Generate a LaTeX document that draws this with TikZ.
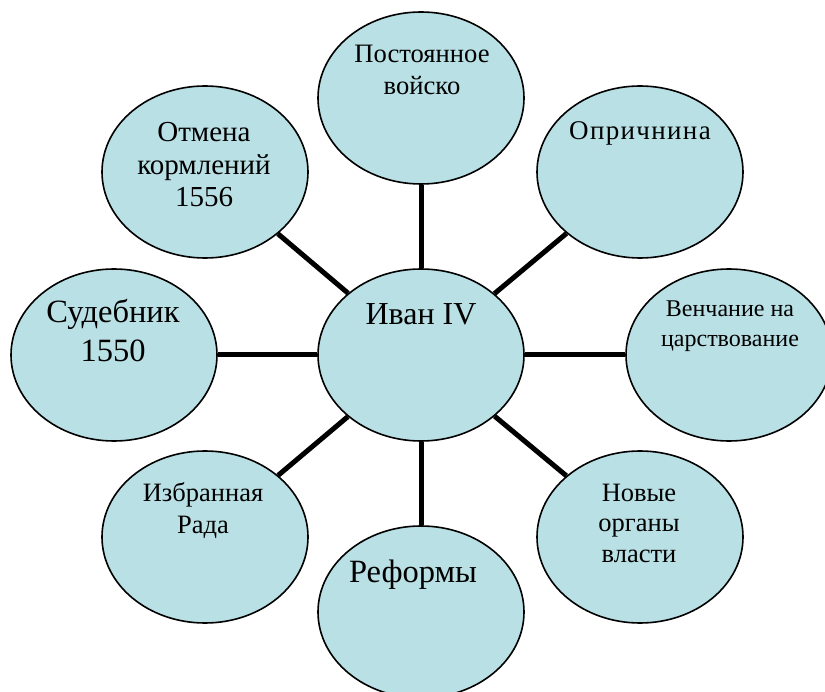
\documentclass[tikz,border=0pt]{standalone}
\usepackage{fontspec}
\setmainfont{Liberation Serif}
\usetikzlibrary{shapes.geometric,backgrounds}
\definecolor{bubfill}{RGB}{185,224,228}
\begin{document}
\begin{tikzpicture}[x=1pt,y=-1pt,
  bub/.style={ellipse, draw=black, line width=1.6pt, fill=bubfill,
    minimum width=206pt, minimum height=172pt, inner sep=0pt},
  conn/.style={line width=5pt, draw=black},
  lbl/.style={anchor=base, align=center, inner sep=0pt}]
\useasboundingbox (0,0) rectangle (825,692);
% bubbles
\node[bub] (c)   at (421,355) {};
\node[bub] (top) at (421,98)  {};
\node[bub] (opr) at (640,172) {};
\node[bub] (ven) at (729,355) {};
\node[bub] (nov) at (640,537) {};
\node[bub] (ref) at (421,612) {};
\node[bub] (izb) at (205,537) {};
\node[bub] (sud) at (114,355) {};
\node[bub] (otm) at (205,172) {};
% connectors
\begin{scope}[on background layer]
\foreach \n in {top,opr,ven,nov,ref,izb,sud,otm}
  \draw[conn] (c) -- (\n);
\end{scope}
% texts (base = baseline of the last line)
\node[lbl, font=\fontsize{32}{38}\selectfont] (tc) at (421,325) {Иван IV};
\node[lbl, font=\fontsize{26.6}{32}\selectfont] (ttop) at (422,95) {Постоянное\\войско};
\node[lbl, font=\fontsize{27}{32}\selectfont\addfontfeature{LetterSpace=5}] (topr) at (640,140) {Опричнина};
\node[lbl, font=\fontsize{24}{30}\selectfont] (tven) at (730,347) {Венчание на\\царствование};
\node[lbl, font=\fontsize{26.5}{30.5}\selectfont] (tnov) at (639,562) {Новые\\органы\\власти};
\node[lbl, font=\fontsize{32.5}{38}\selectfont] (tref) at (413,582) {Реформы};
\node[lbl, font=\fontsize{26.5}{32}\selectfont] (tizb) at (203,533) {Избранная\\Рада};
\node[lbl, font=\fontsize{32.5}{39}\selectfont] (tsud) at (113,362) {Судебник\\1550};
\node[lbl, font=\fontsize{29}{32.5}\selectfont] (totm) at (204,207) {Отмена\\кормлений\\1556};
\end{tikzpicture}
\end{document}
